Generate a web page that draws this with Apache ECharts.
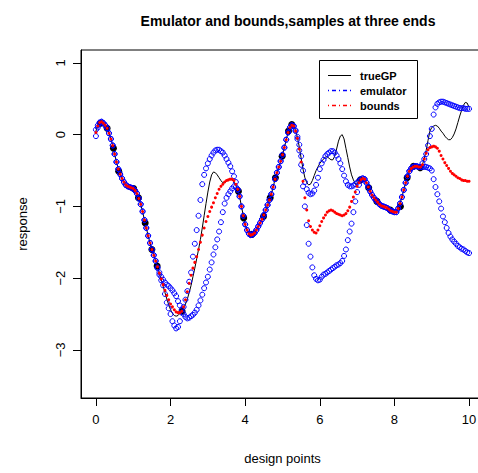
<!DOCTYPE html>
<html>
<head>
<meta charset="utf-8">
<script src="https://cdn.jsdelivr.net/npm/echarts@6/dist/echarts.min.js"></script>
<style>
  html, body { margin: 0; padding: 0; background: #fff; }
  #chart { width: 478px; height: 473px; }
</style>
</head>
<body>
<div id="chart"></div>
<script>
// Evaluation grid: x = gridStart + i * gridStep, i = 0..200
const gridStart = 0;
const gridStep = 0.05;

// True Gaussian-process path on the grid
const trueGP = [
  0.05, 0.13, 0.17, 0.18, 0.16, 0.13, 0.09, 0.02, -0.06, -0.15,
  -0.27, -0.38, -0.48, -0.55, -0.61, -0.66, -0.70, -0.72, -0.73, -0.74,
  -0.75, -0.78, -0.82, -0.89, -0.97, -1.07, -1.19, -1.30, -1.41, -1.51,
  -1.60, -1.68, -1.76, -1.84, -1.93, -2.02, -2.11, -2.20, -2.29, -2.37,
  -2.44, -2.49, -2.52, -2.53, -2.52, -2.49, -2.46, -2.42, -2.36, -2.29,
  -2.20, -2.10, -1.98, -1.86, -1.73, -1.60, -1.46, -1.30, -1.13, -0.96,
  -0.80, -0.66, -0.56, -0.52, -0.53, -0.56, -0.60, -0.64, -0.67, -0.67,
  -0.65, -0.63, -0.62, -0.63, -0.66, -0.71, -0.77, -0.86, -1.00, -1.13,
  -1.25, -1.33, -1.38, -1.40, -1.39, -1.37, -1.33, -1.28, -1.23, -1.18,
  -1.12, -1.05, -0.98, -0.91, -0.83, -0.73, -0.62, -0.53, -0.45, -0.37,
  -0.28, -0.18, -0.07, 0.03, 0.10, 0.13, 0.12, 0.06, -0.04, -0.17,
  -0.33, -0.48, -0.60, -0.67, -0.70, -0.69, -0.64, -0.57, -0.50, -0.45,
  -0.40, -0.37, -0.34, -0.31, -0.31, -0.33, -0.35, -0.35, -0.30, -0.20,
  -0.09, -0.02, 0.00, -0.06, -0.19, -0.32, -0.45, -0.56, -0.63, -0.68,
  -0.69, -0.66, -0.63, -0.61, -0.62, -0.67, -0.73, -0.79, -0.84, -0.88,
  -0.91, -0.94, -0.97, -0.99, -1.00, -1.01, -1.02, -1.04, -1.06, -1.07,
  -1.08, -1.08, -1.03, -0.96, -0.87, -0.77, -0.67, -0.58, -0.51, -0.47,
  -0.45, -0.44, -0.44, -0.45, -0.45, -0.42, -0.33, -0.22, -0.08, 0.05,
  0.10, 0.12, 0.13, 0.12, 0.09, 0.05, 0.02, -0.02, -0.05, -0.07,
  -0.07, -0.04, 0.01, 0.08, 0.17, 0.26, 0.34, 0.41, 0.45, 0.44,
  0.38
];

// Emulator, upper branch
const emulatorUpper = [
  0.07, 0.13, 0.17, 0.18, 0.16, 0.13, 0.09, 0.02, -0.06, -0.15,
  -0.27, -0.38, -0.48, -0.55, -0.61, -0.66, -0.70, -0.72, -0.73, -0.74,
  -0.75, -0.78, -0.82, -0.89, -0.97, -1.07, -1.19, -1.30, -1.41, -1.51,
  -1.60, -1.68, -1.76, -1.85, -1.92, -1.98, -2.02, -2.06, -2.09, -2.11,
  -2.14, -2.17, -2.21, -2.25, -2.32, -2.38, -2.44, -2.40, -2.30, -2.18,
  -2.05, -1.92, -1.70, -1.52, -1.33, -1.13, -0.91, -0.69, -0.56, -0.47,
  -0.40, -0.34, -0.29, -0.25, -0.22, -0.21, -0.21, -0.23, -0.25, -0.29,
  -0.34, -0.39, -0.44, -0.51, -0.58, -0.66, -0.76, -0.86, -1.00, -1.13,
  -1.25, -1.33, -1.38, -1.40, -1.39, -1.37, -1.33, -1.28, -1.23, -1.18,
  -1.12, -1.05, -0.98, -0.91, -0.83, -0.73, -0.62, -0.53, -0.45, -0.37,
  -0.28, -0.18, -0.07, 0.03, 0.10, 0.13, 0.12, 0.06, -0.03, -0.14,
  -0.30, -0.50, -0.66, -0.76, -0.81, -0.83, -0.82, -0.78, -0.70, -0.60,
  -0.48, -0.40, -0.35, -0.30, -0.27, -0.25, -0.23, -0.23, -0.25, -0.29,
  -0.34, -0.40, -0.48, -0.57, -0.65, -0.70, -0.72, -0.72, -0.71, -0.69,
  -0.67, -0.64, -0.62, -0.61, -0.62, -0.67, -0.73, -0.79, -0.84, -0.88,
  -0.91, -0.94, -0.97, -0.99, -1.00, -1.01, -1.02, -1.04, -1.06, -1.07,
  -1.08, -1.08, -1.03, -0.96, -0.87, -0.77, -0.67, -0.58, -0.51, -0.47,
  -0.45, -0.44, -0.44, -0.45, -0.45, -0.40, -0.34, -0.27, -0.15, -0.02,
  0.08, 0.28, 0.38, 0.43, 0.45, 0.46, 0.46, 0.45, 0.44, 0.43,
  0.42, 0.41, 0.40, 0.39, 0.38, 0.37, 0.37, 0.37, 0.36, 0.36,
  0.36
];

// Emulator, lower branch
const emulatorLower = [
  -0.02, 0.10, 0.16, 0.18, 0.16, 0.13, 0.09, 0.02, -0.06, -0.15,
  -0.27, -0.38, -0.48, -0.55, -0.61, -0.66, -0.70, -0.72, -0.73, -0.74,
  -0.75, -0.78, -0.82, -0.89, -0.97, -1.07, -1.19, -1.30, -1.41, -1.51,
  -1.60, -1.68, -1.76, -1.86, -1.95, -2.03, -2.10, -2.22, -2.34, -2.42,
  -2.50, -2.60, -2.66, -2.70, -2.68, -2.60, -2.48, -2.50, -2.54, -2.56,
  -2.55, -2.53, -2.51, -2.48, -2.44, -2.38, -2.31, -2.23, -2.14, -2.06,
  -1.98, -1.88, -1.78, -1.67, -1.57, -1.46, -1.35, -1.22, -1.08, -0.96,
  -0.88, -0.83, -0.79, -0.75, -0.72, -0.73, -0.77, -0.86, -1.00, -1.13,
  -1.25, -1.33, -1.38, -1.40, -1.39, -1.37, -1.33, -1.28, -1.23, -1.18,
  -1.12, -1.05, -0.98, -0.91, -0.83, -0.73, -0.62, -0.53, -0.45, -0.37,
  -0.28, -0.18, -0.07, 0.03, 0.10, 0.13, 0.12, 0.05, -0.06, -0.22,
  -0.42, -0.72, -1.00, -1.26, -1.52, -1.70, -1.85, -1.96, -2.01, -2.03,
  -2.02, -1.98, -1.95, -1.94, -1.92, -1.90, -1.88, -1.86, -1.84, -1.82,
  -1.81, -1.79, -1.76, -1.69, -1.60, -1.47, -1.35, -1.24, -1.08, -0.93,
  -0.80, -0.70, -0.64, -0.61, -0.62, -0.67, -0.73, -0.79, -0.84, -0.88,
  -0.91, -0.94, -0.97, -0.99, -1.00, -1.01, -1.02, -1.04, -1.06, -1.07,
  -1.08, -1.08, -1.03, -0.96, -0.87, -0.77, -0.67, -0.58, -0.51, -0.47,
  -0.45, -0.44, -0.44, -0.45, -0.45, -0.45, -0.45, -0.45, -0.46, -0.47,
  -0.50, -0.62, -0.73, -0.83, -0.93, -1.03, -1.14, -1.22, -1.30, -1.37,
  -1.42, -1.46, -1.49, -1.52, -1.55, -1.57, -1.59, -1.60, -1.62, -1.64,
  -1.65
];

// Bounds (red points)
const bounds = [
  0.03, 0.12, 0.17, 0.18, 0.16, 0.13, 0.09, 0.02, -0.06, -0.15,
  -0.27, -0.38, -0.48, -0.55, -0.61, -0.66, -0.70, -0.72, -0.73, -0.74,
  -0.75, -0.78, -0.82, -0.89, -0.97, -1.07, -1.19, -1.30, -1.41, -1.51,
  -1.60, -1.68, -1.76, -1.84, -1.93, -2.01, -2.09, -2.17, -2.24, -2.30,
  -2.36, -2.40, -2.44, -2.47, -2.48, -2.48, -2.46, -2.40, -2.30, -2.19,
  -2.07, -1.96, -1.86, -1.78, -1.70, -1.60, -1.50, -1.40, -1.30, -1.21,
  -1.14, -1.07, -1.01, -0.95, -0.88, -0.82, -0.76, -0.72, -0.69, -0.66,
  -0.64, -0.63, -0.62, -0.62, -0.64, -0.69, -0.76, -0.86, -1.00, -1.13,
  -1.25, -1.33, -1.38, -1.40, -1.39, -1.37, -1.33, -1.28, -1.23, -1.18,
  -1.12, -1.05, -0.98, -0.91, -0.83, -0.73, -0.62, -0.53, -0.45, -0.37,
  -0.28, -0.18, -0.07, 0.03, 0.10, 0.13, 0.12, 0.05, -0.05, -0.20,
  -0.38, -0.65, -0.88, -1.05, -1.20, -1.28, -1.33, -1.36, -1.37, -1.33,
  -1.27, -1.21, -1.16, -1.12, -1.08, -1.06, -1.05, -1.06, -1.08, -1.10,
  -1.11, -1.12, -1.13, -1.12, -1.10, -1.06, -1.01, -0.93, -0.87, -0.80,
  -0.72, -0.67, -0.63, -0.61, -0.62, -0.67, -0.73, -0.79, -0.84, -0.88,
  -0.91, -0.94, -0.97, -0.99, -1.00, -1.01, -1.02, -1.04, -1.06, -1.07,
  -1.08, -1.08, -1.03, -0.96, -0.87, -0.77, -0.67, -0.58, -0.51, -0.47,
  -0.45, -0.44, -0.44, -0.45, -0.45, -0.42, -0.34, -0.26, -0.21, -0.18,
  -0.17, -0.16, -0.17, -0.19, -0.23, -0.29, -0.34, -0.39, -0.43, -0.47,
  -0.51, -0.54, -0.56, -0.58, -0.60, -0.61, -0.63, -0.64, -0.64, -0.65,
  -0.65
];

// Design (sample) points, grouped at the three ends
const designX = [0.12, 0.30, 0.47, 0.61, 1.01, 1.14, 1.32, 1.50, 1.64, 2.31,
                 3.82, 3.96, 4.18, 4.49, 4.67, 4.81, 4.99, 5.16, 5.25,
                 7.09, 7.31, 7.53, 7.89, 8.16, 8.34, 8.51, 8.69];
const designY = [0.16, 0.09, -0.19, -0.51, -0.75, -0.88, -1.23, -1.60, -1.83, -2.46,
                 -0.79, -1.16, -1.39, -1.14, -0.88, -0.60, -0.30, 0.05, 0.14,
                 -0.63, -0.74, -0.93, -1.05, -1.00, -0.60, -0.44, -0.46];

const xTicks = [0, 2, 4, 6, 8, 10];
const yTicks = [-3, -2, -1, 0, 1];

const FONT = '"Liberation Sans", Arial, Helvetica, sans-serif';

function onGrid(values) {
  return values.map((y, i) => [+(gridStart + i * gridStep).toFixed(2), y]);
}

const chart = echarts.init(document.getElementById('chart'), null, { renderer: 'svg' });

const option = {
  animation: false,
  backgroundColor: '#ffffff',
  title: {
    text: 'Emulator and bounds,samples at three ends',
    left: 283,
    top: 9,
    textAlign: 'center',
    textStyle: { fontFamily: FONT, fontWeight: 'bold', fontSize: 14, color: '#000' }
  },
  grid: {
    left: 81, top: 50, width: 403, height: 348,
    show: true, borderColor: '#000', borderWidth: 1,
    backgroundColor: 'transparent',
    outerBoundsMode: 'none'
  },
  xAxis: {
    type: 'value', min: -0.4, max: 10.4,
    name: 'design points', nameLocation: 'middle', nameGap: 54,
    nameTextStyle: { fontFamily: FONT, fontSize: 13, color: '#000' },
    axisLine: { show: true, onZero: false, lineStyle: { color: '#000', width: 1 } },
    splitLine: { show: false },
    axisTick: { show: true, length: 8, customValues: xTicks, lineStyle: { color: '#000', width: 1 } },
    axisLabel: { customValues: xTicks, margin: 15, fontFamily: FONT, fontSize: 13, color: '#000' }
  },
  yAxis: {
    type: 'value', min: -3.67, max: 1.18,
    name: 'response', nameLocation: 'middle', nameGap: 52, nameRotate: 90,
    nameTextStyle: { fontFamily: FONT, fontSize: 13, color: '#000' },
    axisLine: { show: true, onZero: false, lineStyle: { color: '#000', width: 1 } },
    splitLine: { show: false },
    axisTick: { show: true, length: 8, customValues: yTicks, lineStyle: { color: '#000', width: 1 } },
    axisLabel: {
      customValues: yTicks, rotate: 90, margin: 14,
      fontFamily: FONT, fontSize: 13, color: '#000',
      formatter: v => String(v).replace('-', '\u2212')
    }
  },
  series: [
    {
      name: 'trueGP', type: 'line', data: onGrid(trueGP),
      showSymbol: false, symbol: 'none', silent: true, z: 1,
      lineStyle: { color: '#000', width: 1 }
    },
    {
      name: 'design', type: 'scatter', silent: true, z: 2,
      data: designX.map((x, i) => [x, designY[i]]),
      symbol: 'circle', symbolSize: 7,
      itemStyle: { color: '#000', opacity: 1 }
    },
    {
      name: 'emulator upper', type: 'scatter', silent: true, z: 3,
      data: onGrid(emulatorUpper),
      symbol: 'circle', symbolSize: 5,
      itemStyle: { color: 'rgba(0,0,0,0)', borderColor: '#0000ff', borderWidth: 1, opacity: 1 }
    },
    {
      name: 'emulator lower', type: 'scatter', silent: true, z: 3,
      data: onGrid(emulatorLower),
      symbol: 'circle', symbolSize: 5,
      itemStyle: { color: 'rgba(0,0,0,0)', borderColor: '#0000ff', borderWidth: 1, opacity: 1 }
    },
    {
      name: 'bounds', type: 'scatter', silent: true, z: 4,
      data: onGrid(bounds),
      symbol: 'circle', symbolSize: 3,
      itemStyle: { color: '#ff0000', opacity: 1 }
    }
  ],
  graphic: [
    { type: 'rect', z: 100, shape: { x: 319.5, y: 60.5, width: 98, height: 58 },
      style: { fill: '#fff', stroke: '#000', lineWidth: 1 } },
    { type: 'line', z: 101, shape: { x1: 328, y1: 75.5, x2: 351, y2: 75.5 },
      style: { stroke: '#000', lineWidth: 1 } },
    { type: 'line', z: 101, shape: { x1: 328, y1: 90.5, x2: 351, y2: 90.5 },
      style: { stroke: '#0000ff', lineWidth: 1.5, lineDash: [1, 3, 4, 3] } },
    { type: 'line', z: 101, shape: { x1: 328, y1: 105.5, x2: 351, y2: 105.5 },
      style: { stroke: '#ff0000', lineWidth: 1.5, lineDash: [1, 3, 4, 3] } },
    { type: 'text', z: 101, x: 360, y: 75.5,
      style: { text: 'trueGP', fill: '#000', font: 'bold 11px ' + FONT, verticalAlign: 'middle' } },
    { type: 'text', z: 101, x: 360, y: 90.5,
      style: { text: 'emulator', fill: '#000', font: 'bold 11px ' + FONT, verticalAlign: 'middle' } },
    { type: 'text', z: 101, x: 360, y: 105.5,
      style: { text: 'bounds', fill: '#000', font: 'bold 11px ' + FONT, verticalAlign: 'middle' } }
  ]
};

chart.setOption(option);
</script>
</body>
</html>
